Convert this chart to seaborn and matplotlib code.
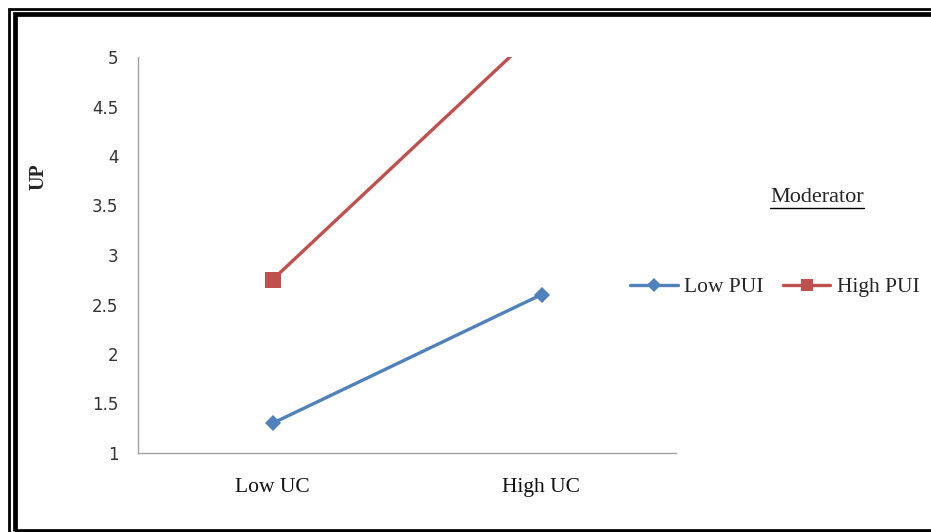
import matplotlib
matplotlib.use("Agg")
import matplotlib.pyplot as plt
import seaborn as sns
import pandas as pd
from matplotlib.patches import Rectangle
from matplotlib.lines import Line2D

categories = ["Low UC", "High UC"]
low_pui = [1.3, 2.6]
high_pui = [2.75, 5.3]
series_names = ["Low PUI", "High PUI"]
y_ticks = [1, 1.5, 2, 2.5, 3, 3.5, 4, 4.5, 5]
y_tick_labels = ["1", "1.5", "2", "2.5", "3", "3.5", "4", "4.5", "5"]

sns.set_style("white")
plt.rcParams["font.family"] = ["DejaVu Sans"]

W, H = 931, 532
fig = plt.figure(figsize=(W / 100, H / 100), dpi=100)
ax = fig.add_axes([138 / W, 1 - 453 / H, (676 - 138) / W, (453 - 57) / H])

df = pd.DataFrame({
    "x": categories * 2,
    "y": low_pui + high_pui,
    "series": [series_names[0]] * 2 + [series_names[1]] * 2,
})

colors = {"Low PUI": "#4F81BD", "High PUI": "#C0504D"}
markers = {"Low PUI": "D", "High PUI": "s"}
msize = {"Low PUI": 8.5, "High PUI": 11}
for name in series_names:
    sub = df[df["series"] == name]
    sns.lineplot(data=sub, x="x", y="y", ax=ax, color=colors[name], marker=markers[name],
                 markersize=msize[name], markeredgewidth=0, linewidth=2.4, legend=False,
                 sort=False)

ax.set_xlim(-0.5, 1.5)
ax.set_ylim(1, 5)
ax.set_yticks(y_ticks)
ax.set_yticklabels(y_tick_labels, fontsize=12, color="#333333")
ax.set_xticks([-0.5, 0.5, 1.5], minor=False)
ax.set_xticklabels([])
ax.set_xticks([0, 1], minor=True)
ax.set_xticklabels(categories, minor=True, fontsize=15.5, family="Liberation Serif", color="#111111")
ax.tick_params(axis="x", which="minor", length=0, pad=18)
ax.tick_params(axis="x", which="major", length=6, color="#A0A0A0", direction="out", width=1)
ax.tick_params(axis="y", length=5, color="#A0A0A0", direction="out", width=1, pad=9)
ax.set_xlabel("")
ax.set_ylabel("")
for s in ["top", "right"]:
    ax.spines[s].set_visible(False)
for s in ["left", "bottom"]:
    ax.spines[s].set_color("#A0A0A0")
    ax.spines[s].set_linewidth(1)

fig.text(38 / W, 1 - 177 / H, "UP", rotation=90, ha="center", va="center",
         fontsize=14.5, fontweight="bold", family="Liberation Serif")

mod = fig.text(817 / W, 1 - 198 / H, "Moderator", ha="center", va="center",
               fontsize=16, family="Liberation Serif")
fig.canvas.draw()
bb = mod.get_window_extent()
fig.add_artist(Line2D([bb.x0 / W, bb.x1 / W], [(H - 208) / H, (H - 208) / H],
                      transform=fig.transFigure, color="black", linewidth=1))

handles = [Line2D([], [], color=colors[n], marker=markers[n], markersize=msize[n] * 0.85,
                  markeredgewidth=0, linewidth=2.4) for n in series_names]
fig.legend(handles, series_names, loc="center", bbox_to_anchor=(775 / W, 1 - 287 / H),
           ncol=2, frameon=False, prop={"family": "Liberation Serif", "size": 15.5},
           handlelength=2.2, handletextpad=0.3, columnspacing=0.9)

# frame borders
fig.add_artist(Rectangle((8.5 / W, -0.1), 2, (H - 9) / H + 0.1, transform=fig.transFigure,
                         fill=False, edgecolor="black", linewidth=2.0, clip_on=False))
fig.add_artist(Rectangle((14.5 / W, (H - 530.5) / H), 2, (530.5 - 14) / H, transform=fig.transFigure,
                         fill=False, edgecolor="black", linewidth=3.4, clip_on=False))

fig.savefig("out.png", dpi=100)
